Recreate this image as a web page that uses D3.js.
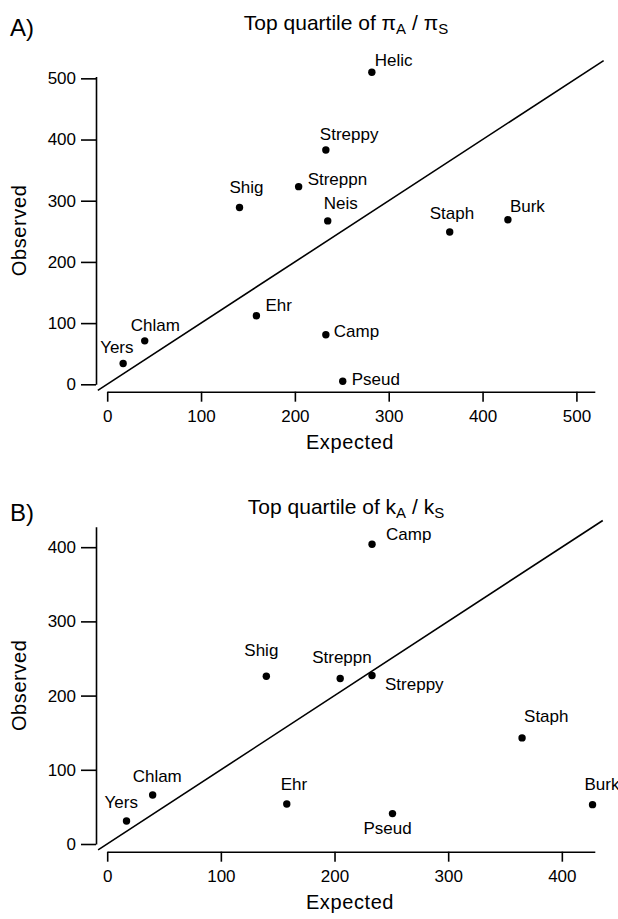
<!DOCTYPE html>
<head>
<meta charset="utf-8">
<title>Top quartile: observed vs expected</title>
<style>
body { margin: 0; background: #fff; }
svg { font-family: Arial, "Liberation Sans", Helvetica, sans-serif; }
.axis path, .axis line { stroke: #000; stroke-width: 1.6; }
.axis text { font-size: 17px; fill: #000; }
.lbl { font-size: 17px; }
</style>
</head>
<body>
<svg id="fig"></svg>
<script src="https://d3js.org/d3.v7.min.js"></script>
<script>

// panel A: top quartile of piA / piS
var taxaA = ["Helic", "Streppy", "Streppn", "Shig", "Neis", "Staph", "Burk", "Ehr", "Chlam", "Yers", "Camp", "Pseud"];
var expectedA = [282, 233, 204, 141, 235, 365, 427, 159, 40, 17, 233, 251];
var observedA = [510, 383, 323, 289, 267, 249, 269, 112, 71, 34, 81, 5];
var ticksA = [0, 100, 200, 300, 400, 500];

// panel B: top quartile of kA / kS
var taxaB = ["Camp", "Shig", "Streppn", "Streppy", "Staph", "Chlam", "Yers", "Ehr", "Pseud", "Burk"];
var expectedB = [233, 140, 205, 233, 365, 40, 17, 158, 251, 427];
var observedB = [404, 226, 223, 227, 143, 66, 31, 54, 41, 53];
var ticksB = [0, 100, 200, 300, 400];

// label offsets from the dot (px), start anchored, baseline
var offA = {Helic: [3, -6], Streppy: [-6, -10], Streppn: [9, -2], Shig: [-10, -14], Neis: [-4, -12],
            Staph: [-20, -13], Burk: [2, -8], Ehr: [9, -5], Chlam: [-14, -10], Yers: [-23, -10],
            Camp: [8, 2], Pseud: [9, 4]};
var offB = {Camp: [14, -4], Shig: [-22, -20], Streppn: [-28, -16], Streppy: [13, 14], Staph: [2, -16],
            Chlam: [-20, -13], Yers: [-22, -13], Ehr: [-6, -14], Pseud: [-29, 20], Burk: [-8, -15]};

var W = 618, H = 919;
var svg = d3.select("#fig").attr("width", W).attr("height", H);

function drawPanel(o) {
	var g = svg.append("g");

	var x = d3.scaleLinear().domain(o.xDom).range(o.xRange);
	var y = d3.scaleLinear().domain(o.yDom).range(o.yRange);

	var xAxis = d3.axisBottom(x).tickValues(o.ticks).tickSize(10).tickSizeOuter(0).tickPadding(8);
	var yAxis = d3.axisLeft(y).tickValues(o.ticks).tickSize(15).tickSizeOuter(0).tickPadding(5);

	g.append("g").attr("class", "axis")
		.attr("transform", "translate(0," + o.xAxisY + ")")
		.call(xAxis);
	g.append("g").attr("class", "axis")
		.attr("transform", "translate(" + o.yAxisX + ",0)")
		.call(yAxis);

	// y = x reference line
	g.append("line")
		.attr("x1", x(o.diag[0])).attr("y1", y(o.diag[0]))
		.attr("x2", x(o.diag[1])).attr("y2", y(o.diag[1]))
		.attr("stroke", "#000").attr("stroke-width", 1.6);

	var pts = o.taxa.map(function(t, i) { return {name: t, ex: o.ex[i], ob: o.ob[i]}; });

	g.selectAll("circle.pt").data(pts).enter().append("circle")
		.attr("class", "pt")
		.attr("cx", function(d) { return x(d.ex); })
		.attr("cy", function(d) { return y(d.ob); })
		.attr("r", 3.7)
		.attr("fill", "#000");

	g.selectAll("text.lbl").data(pts).enter().append("text")
		.attr("class", "lbl")
		.attr("x", function(d) { return x(d.ex) + o.off[d.name][0]; })
		.attr("y", function(d) { return y(d.ob) + o.off[d.name][1]; })
		.text(function(d) { return d.name; });

	// titles
	var t = g.append("text")
		.attr("x", o.titleX).attr("y", o.titleY)
		.attr("text-anchor", "middle")
		.style("font-size", "21px");
	t.append("tspan").text("Top quartile of " + o.sym);
	t.append("tspan").attr("dy", 4).style("font-size", "15px").text("A");
	t.append("tspan").attr("dy", -4).text(" / " + o.sym);
	t.append("tspan").attr("dy", 4).style("font-size", "15px").text("S");

	g.append("text")
		.attr("x", 10).attr("y", o.letterY)
		.style("font-size", "24px")
		.text(o.letter);

	g.append("text")
		.attr("x", 350)
		.attr("y", o.xAxisY + 57)
		.attr("text-anchor", "middle")
		.style("font-size", "20px")
		.style("letter-spacing", "0.6px")
		.text("Expected");

	g.append("text")
		.attr("transform", "translate(26," + ((o.yRange[0] + o.yRange[1]) / 2) + ") rotate(-90)")
		.attr("text-anchor", "middle")
		.style("font-size", "20px")
		.style("letter-spacing", "0.6px")
		.text("Observed");
}

drawPanel({
	taxa: taxaA, ex: expectedA, ob: observedA, ticks: ticksA, off: offA,
	xDom: [0, 519.6], xRange: [107.2, 594.8],
	yDom: [0, 503], yRange: [384.3, 76.5],
	xAxisY: 391.7, yAxisX: 96,
	diag: [-10, 529],
	sym: "\u03c0", titleX: 346, titleY: 30, letter: "A)", letterY: 36
});

drawPanel({
	taxa: taxaB, ex: expectedB, ob: observedB, ticks: ticksB, off: offB,
	xDom: [0, 429], xRange: [107.2, 594.8],
	yDom: [0, 427.6], yRange: [844, 526.7],
	xAxisY: 851.7, yAxisX: 96,
	diag: [-8, 436],
	sym: "k", titleX: 346, titleY: 514, letter: "B)", letterY: 521
});

</script>
</body>
